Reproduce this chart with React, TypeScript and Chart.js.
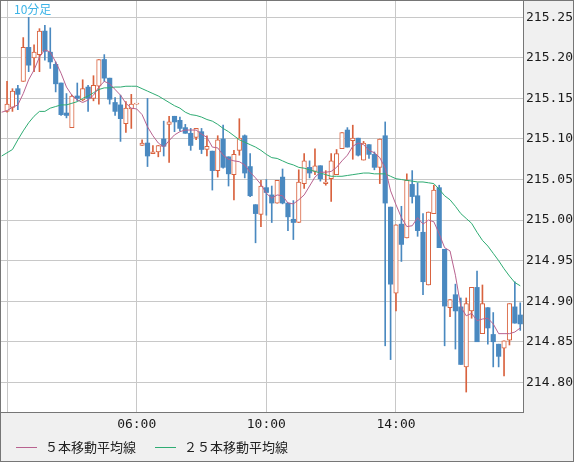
import React, { useEffect, useRef } from 'react';
import { Chart, registerables } from 'chart.js';

Chart.register(...registerables);

// 10-minute candles, 02:00 .. 17:50 (index 0 = 02:00)
const opens = [
  215.134, 215.139, 215.162, 215.171, 215.213, 215.200, 215.204, 215.233, 215.207, 215.192,
  215.169, 215.132, 215.114, 215.153, 215.148, 215.164, 215.150, 215.165, 215.198, 215.175,
  215.145, 215.142, 215.119, 215.137, 215.143, 215.092, 215.095, 215.082, 215.084, 215.100,
  215.118, 215.128, 215.123, 215.114, 215.107, 215.102, 215.109, 215.087, 215.085, 215.061,
  215.100, 215.078, 215.056, 215.086, 215.104, 215.066, 215.019, 215.007, 215.040, 215.031,
  215.021, 215.053, 215.021, 215.001, 214.997, 215.045, 215.065, 215.060, 215.067, 215.045,
  215.051, 215.056, 215.088, 215.111, 215.098, 215.101, 215.074, 215.093, 215.081, 215.065,
  215.104, 215.016, 214.910, 214.995, 214.978, 215.044, 215.030, 214.985, 214.920, 215.008,
  215.040, 214.964, 214.892, 214.908, 214.893, 214.819, 214.888, 214.917, 214.860, 214.892,
  214.859, 214.847, 214.842, 214.852, 214.893, 214.883,
];
const highs = [
  215.171, 215.162, 215.166, 215.225, 215.250, 215.216, 215.236, 215.240, 215.237, 215.195,
  215.169, 215.156, 215.154, 215.169, 215.173, 215.166, 215.178, 215.198, 215.204, 215.175,
  215.151, 215.154, 215.146, 215.155, 215.143, 215.099, 215.150, 215.092, 215.092, 215.122,
  215.128, 215.128, 215.127, 215.118, 215.113, 215.113, 215.113, 215.104, 215.085, 215.104,
  215.117, 215.078, 215.086, 215.125, 215.105, 215.082, 215.019, 215.049, 215.050, 215.042,
  215.049, 215.063, 215.021, 215.024, 215.062, 215.082, 215.073, 215.088, 215.067, 215.061,
  215.082, 215.087, 215.108, 215.114, 215.117, 215.101, 215.097, 215.093, 215.084, 215.100,
  215.121, 215.016, 214.994, 215.017, 215.057, 215.061, 215.046, 215.008, 215.010, 215.043,
  215.043, 214.964, 214.902, 214.921, 214.904, 214.904, 214.917, 214.937, 214.920, 214.892,
  214.886, 214.847, 214.851, 214.897, 214.924, 214.898,
];
const lows = [
  215.133, 215.134, 215.136, 215.171, 215.183, 215.183, 215.183, 215.197, 215.187, 215.158,
  215.129, 215.126, 215.114, 215.147, 215.147, 215.134, 215.147, 215.143, 215.171, 215.143,
  215.129, 215.097, 215.108, 215.113, 215.143, 215.092, 215.066, 215.082, 215.078, 215.079,
  215.071, 215.109, 215.110, 215.107, 215.086, 215.099, 215.082, 215.079, 215.037, 215.053,
  215.064, 215.042, 215.025, 215.080, 215.052, 215.029, 214.972, 214.992, 215.006, 214.997,
  215.021, 215.020, 214.987, 214.976, 214.997, 215.039, 215.052, 215.056, 215.048, 215.043,
  215.023, 215.056, 215.088, 215.090, 215.075, 215.079, 215.074, 215.076, 215.062, 215.045,
  214.845, 214.828, 214.888, 214.949, 214.978, 215.021, 214.980, 214.908, 214.920, 215.008,
  214.966, 214.845, 214.881, 214.841, 214.822, 214.788, 214.879, 214.850, 214.860, 214.847,
  214.819, 214.819, 214.808, 214.846, 214.873, 214.864,
];
const closes = [
  215.143, 215.159, 215.155, 215.213, 215.191, 215.207, 215.233, 215.208, 215.195, 215.168,
  215.130, 215.129, 215.153, 215.150, 215.162, 215.150, 215.166, 215.198, 215.175, 215.149,
  215.134, 215.125, 215.138, 215.143, 215.143, 215.095, 215.079, 215.084, 215.092, 215.091,
  215.121, 215.121, 215.113, 215.107, 215.092, 215.113, 215.087, 215.091, 215.061, 215.099,
  215.065, 215.057, 215.081, 215.101, 215.058, 215.030, 215.008, 215.042, 215.034, 215.021,
  215.049, 215.021, 215.004, 214.997, 215.047, 215.073, 215.058, 215.067, 215.051, 215.047,
  215.073, 215.082, 215.108, 215.090, 215.101, 215.080, 215.095, 215.081, 215.065, 215.100,
  215.021, 214.921, 214.994, 214.970, 215.049, 215.029, 214.987, 214.924, 215.010, 215.037,
  214.966, 214.894, 214.902, 214.888, 214.822, 214.897, 214.917, 214.850, 214.897, 214.867,
  214.850, 214.832, 214.851, 214.897, 214.873, 214.872,
];

// moving averages; first value belongs to the bar just before 02:00 (index -1)
const ma5 = [
  215.133,
  215.135, 215.139, 215.142, 215.156, 215.173, 215.185, 215.201, 215.210, 215.207, 215.195,
  215.181, 215.164, 215.154, 215.148, 215.145, 215.148, 215.154, 215.164, 215.171, 215.168,
  215.161, 215.154, 215.144, 215.138, 215.137, 215.130, 215.115, 215.104, 215.095, 215.090,
  215.098, 215.105, 215.109, 215.111, 215.111, 215.111, 215.106, 215.102, 215.090, 215.089,
  215.080, 215.075, 215.073, 215.072, 215.068, 215.059, 215.052, 215.044, 215.033, 215.027,
  215.031, 215.030, 215.021, 215.020, 215.025, 215.031, 215.042, 215.053, 215.059, 215.059,
  215.060, 215.065, 215.073, 215.080, 215.091, 215.095, 215.093, 215.086, 215.083, 215.077,
  215.064, 215.036, 215.019, 215.003, 214.992, 214.993, 215.003, 214.995, 215.000, 214.998,
  214.983, 214.966, 214.962, 214.932, 214.893, 214.882, 214.885, 214.876, 214.878, 214.879,
  214.872, 214.860, 214.860, 214.860, 214.862, 214.867,
];
const ma25 = [
  215.079,
  215.083, 215.087, 215.099, 215.110, 215.120, 215.128, 215.134, 215.134, 215.138, 215.140,
  215.142, 215.142, 215.144, 215.146, 215.150, 215.153, 215.157, 215.161, 215.163, 215.163,
  215.164, 215.164, 215.165, 215.165, 215.165, 215.162, 215.159, 215.156, 215.153, 215.149,
  215.145, 215.141, 215.138, 215.133, 215.130, 215.129, 215.127, 215.124, 215.122, 215.118,
  215.113, 215.109, 215.104, 215.099, 215.096, 215.093, 215.090, 215.086, 215.081, 215.077,
  215.076, 215.073, 215.070, 215.068, 215.065, 215.064, 215.062, 215.060, 215.058, 215.056,
  215.054, 215.054, 215.054, 215.055, 215.056, 215.057, 215.058, 215.058, 215.057, 215.057,
  215.057, 215.054, 215.051, 215.050, 215.049, 215.048, 215.047, 215.047, 215.046, 215.045,
  215.038, 215.030, 215.025, 215.017, 215.008, 215.002, 214.996, 214.985, 214.975, 214.968,
  214.959, 214.950, 214.940, 214.931, 214.923, 214.919,
];

const seriesLabels = ['５本移動平均線', '２５本移動平均線'];
const periodLabel = '10分足';

// time gridlines (bar index) and their labels; the 02:00 line carries no label
const xTickIndex = [0, 24, 48, 72];
const xTickLabels = ['', '06:00', '10:00', '14:00'];
const yTicks = [214.8, 214.85, 214.9, 214.95, 215.0, 215.05, 215.1, 215.15, 215.2, 215.25];

const UP_COLOR = '#d9623e';
const DOWN_COLOR = '#4a89c0';
const MA5_COLOR = '#b8628f';
const MA25_COLOR = '#2fac73';
const GRID_COLOR = '#c8c8c8';
const FRAME_COLOR = '#767676';
const MONO = '"DejaVu Sans Mono", monospace';
const JP = '"Noto Sans CJK JP", sans-serif';

const framePlugin = {
  id: 'frame',
  beforeDraw(chart: any) {
    const { ctx, width, height, chartArea: a } = chart;
    ctx.save();
    ctx.fillStyle = '#f0f0f0';
    ctx.fillRect(0, 0, width, height);
    ctx.fillStyle = '#ffffff';
    ctx.fillRect(a.left, a.top, a.right - a.left, a.bottom - a.top);
    ctx.restore();
  },
  afterDraw(chart: any) {
    const { ctx, width, height, chartArea: a } = chart;
    ctx.save();
    ctx.strokeStyle = FRAME_COLOR;
    ctx.lineWidth = 1;
    ctx.strokeRect(a.left - 0.5, a.top - 0.5, a.right - a.left + 1, a.bottom - a.top + 1);
    ctx.strokeRect(0.5, 0.5, width - 1, height - 1);

    ctx.textBaseline = 'middle';
    ctx.fillStyle = '#3db4e7';
    ctx.font = `12px ${JP}`;
    ctx.fillText(periodLabel, a.left + 13, a.top + 8.5);

    // legend for the two moving averages
    let x = 16;
    const y = 447.5;
    ctx.font = `13px ${JP}`;
    chart.data.datasets.forEach((ds: any) => {
      if (ds.type !== 'line') return;
      ctx.strokeStyle = ds.borderColor;
      ctx.beginPath();
      ctx.moveTo(x, y);
      ctx.lineTo(x + 21, y);
      ctx.stroke();
      ctx.fillStyle = '#222222';
      ctx.fillText(ds.label, x + 29, y);
      x += 29 + ctx.measureText(ds.label).width + 19;
    });
    ctx.restore();
  },
};

export default function App() {
  const canvasRef = useRef<HTMLCanvasElement>(null);
  const chartRef = useRef<Chart | null>(null);

  useEffect(() => {
    document.body.style.margin = '0';
    if (!canvasRef.current) return;
    if (chartRef.current) chartRef.current.destroy();

    const up = closes.map((c, i) => c >= opens[i]);

    chartRef.current = new Chart(canvasRef.current, {
      type: 'bar',
      data: {
        datasets: [
          {
            type: 'line',
            label: seriesLabels[0],
            data: ma5.map((v, i) => ({ x: i - 1, y: v })),
            borderColor: MA5_COLOR,
            borderWidth: 1,
            pointRadius: 0,
            tension: 0,
            order: 0,
          },
          {
            type: 'line',
            label: seriesLabels[1],
            data: ma25.map((v, i) => ({ x: i - 1, y: v })),
            borderColor: MA25_COLOR,
            borderWidth: 1,
            pointRadius: 0,
            tension: 0,
            order: 0,
          },
          {
            type: 'bar',
            label: 'body',
            data: opens.map((o, i) => ({ x: i, y: [o, closes[i]] })),
            backgroundColor: up.map(u => (u ? '#ffffff' : DOWN_COLOR)),
            borderColor: up.map(u => (u ? UP_COLOR : DOWN_COLOR)),
            borderWidth: up.map(u => (u ? 1 : 0)),
            borderSkipped: false,
            barThickness: 4.5,
            minBarLength: 1,
            grouped: false,
            order: 1,
          },
          {
            type: 'bar',
            label: 'wick',
            data: lows.map((l, i) => ({ x: i, y: [l, highs[i]] })),
            backgroundColor: up.map(u => (u ? UP_COLOR : DOWN_COLOR)),
            borderWidth: 0,
            barThickness: 1,
            grouped: false,
            order: 2,
          },
        ] as any,
      },
      options: {
        responsive: false,
        animation: false,
        events: [],
        layout: { padding: { left: 1, top: 1, right: 0, bottom: 24 } },
        plugins: {
          legend: { display: false },
          tooltip: { enabled: false },
        },
        scales: {
          x: {
            type: 'linear',
            min: -1.12,
            max: 95.51,
            offset: false,
            grid: { color: GRID_COLOR, drawTicks: false, offset: false },
            border: { display: false },
            ticks: {
              autoSkip: false,
              maxRotation: 0,
              padding: 5,
              color: '#1a1a1a',
              font: { family: MONO, size: 13 },
              callback: (v: any) => xTickLabels[xTickIndex.indexOf(Number(v))] ?? '',
            },
            afterBuildTicks: (s: any) => {
              s.ticks = xTickIndex.map(v => ({ value: v }));
            },
            afterFit: (s: any) => {
              s.height = 26;
              s.paddingLeft = 0;
              s.paddingRight = 0;
            },
          },
          y: {
            type: 'linear',
            position: 'right',
            min: 214.7634,
            max: 215.2701,
            grid: { color: GRID_COLOR, drawTicks: false },
            border: { display: false },
            ticks: {
              padding: 3,
              color: '#1a1a1a',
              font: { family: MONO, size: 13 },
              callback: (v: any) => Number(v).toFixed(2),
            },
            afterBuildTicks: (s: any) => {
              s.ticks = yTicks.map(v => ({ value: v }));
            },
            afterFit: (s: any) => {
              s.width = 51;
              s.paddingTop = 0;
              s.paddingBottom = 0;
            },
          },
        },
      } as any,
      plugins: [framePlugin],
    });

    return () => {
      if (chartRef.current) {
        chartRef.current.destroy();
        chartRef.current = null;
      }
    };
  }, []);

  return (
    <div style={{ width: 574, height: 462 }}>
      <canvas ref={canvasRef} width={574} height={462} style={{ display: 'block' }} />
    </div>
  );
}
